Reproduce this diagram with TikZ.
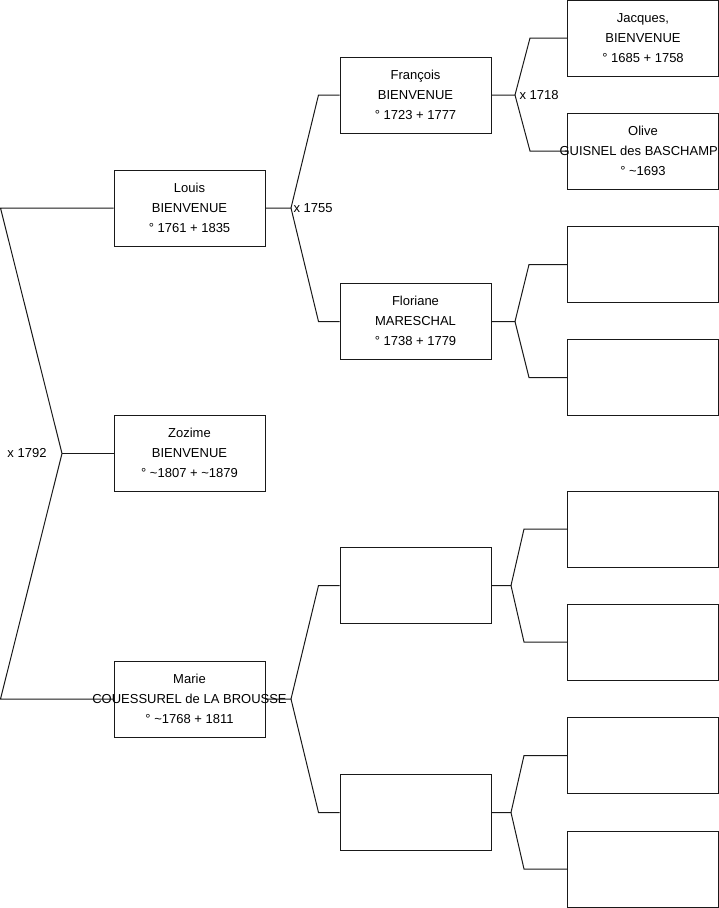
\documentclass[tikz,border=0pt]{standalone}
\usepackage{fontspec}
\setmainfont{Liberation Sans}
\usetikzlibrary{positioning}
\newcommand{\entry}[1]{\makebox[0pt]{\begin{tabular}{@{}c@{}}#1\end{tabular}}}

\begin{document}
\begin{tikzpicture}[x=1pt, y=-1pt, line width=1pt,
    person/.style={draw=black!90, minimum width=151pt, minimum height=76pt,
        inner sep=0pt, font=\fontsize{13}{20}\selectfont},
    union/.style={inner sep=0pt, font=\fontsize{13}{16}\selectfont},
    link/.style={draw=black!90}]
    \useasboundingbox (0,0) rectangle (719,908);

    % Child
    \node[person] (zozime) at (189.5,453.5) {\entry{Zozime\\BIENVENUE\\° \textasciitilde1807 + \textasciitilde1879}};

    % Parents
    \node[person] (louis) at (189.5,208) {\entry{Louis\\BIENVENUE\\° 1761 + 1835}};
    \node[person] (marie) at (189.5,699) {\entry{Marie\\COUESSUREL de LA BROUSSE\\° \textasciitilde1768 + 1811}};

    % Grandparents
    \node[person] (francois) at (415.5,95) {\entry{François\\BIENVENUE\\° 1723 + 1777}};
    \node[person] (floriane) at (415.5,321.5) {\entry{Floriane\\MARESCHAL\\° 1738 + 1779}};
    \node[person] (gpa) at (415.5,585.5) {};
    \node[person] (gpb) at (415.5,812.5) {};

    % Great-grandparents
    \node[person] (jacques) at (643,38) {\entry{Jacques,\\BIENVENUE\\° 1685 + 1758}};
    \node[person] (olive) at (643,151) {\entry{Olive\\GUISNEL des BASCHAMPS\\° \textasciitilde1693}};
    \node[person] (ggpa) at (643,264.5) {};
    \node[person] (ggpb) at (643,377.5) {};
    \node[person] (ggpc) at (643,529) {};
    \node[person] (ggpd) at (643,642) {};
    \node[person] (ggpe) at (643,755.5) {};
    \node[person] (ggpf) at (643,869) {};

    % Fork points
    \coordinate (m1792) at (62,453.5);
    \coordinate (m1755) at (291,208);
    \coordinate (m1718) at (515,95);
    \coordinate (mflo) at (515,321.5);
    \coordinate (mmarie) at (291,699);
    \coordinate (mgpa) at (511,585.5);
    \coordinate (mgpb) at (511,812.5);

    % Marriage of the parents
    \draw[link] (louis.west) -- ([xshift=-113pt]louis.west) -- (m1792)
        -- ([xshift=-113pt]marie.west) -- (marie.west);
    \draw[link] (m1792) -- (zozime.west);
    \node[union, anchor=east] (x1792) at ([xshift=-15pt]m1792) {x 1792};

    % Louis' parents
    \draw[link] (louis.east) -- (m1755) -- ([xshift=-21pt]francois.west) -- (francois.west);
    \draw[link] (m1755) -- ([xshift=-21pt]floriane.west) -- (floriane.west);
    \node[union, anchor=west] (x1755) at ([xshift=2pt]m1755) {x 1755};

    % Marie's parents
    \draw[link] (marie.east) -- (mmarie) -- ([xshift=-21pt]gpa.west) -- (gpa.west);
    \draw[link] (mmarie) -- ([xshift=-21pt]gpb.west) -- (gpb.west);

    % François' parents
    \draw[link] (francois.east) -- (m1718) -- ([xshift=-37pt]jacques.west) -- (jacques.west);
    \draw[link] (m1718) -- ([xshift=-37pt]olive.west) -- (olive.west);
    \node[union, anchor=west] (x1718) at ([xshift=4pt]m1718) {x 1718};

    % Floriane's parents
    \draw[link] (floriane.east) -- (mflo) -- ([xshift=-38pt]ggpa.west) -- (ggpa.west);
    \draw[link] (mflo) -- ([xshift=-38pt]ggpb.west) -- (ggpb.west);

    % Empty branches
    \draw[link] (gpa.east) -- (mgpa) -- ([xshift=-43pt]ggpc.west) -- (ggpc.west);
    \draw[link] (mgpa) -- ([xshift=-43pt]ggpd.west) -- (ggpd.west);
    \draw[link] (gpb.east) -- (mgpb) -- ([xshift=-43pt]ggpe.west) -- (ggpe.west);
    \draw[link] (mgpb) -- ([xshift=-43pt]ggpf.west) -- (ggpf.west);
\end{tikzpicture}
\end{document}
